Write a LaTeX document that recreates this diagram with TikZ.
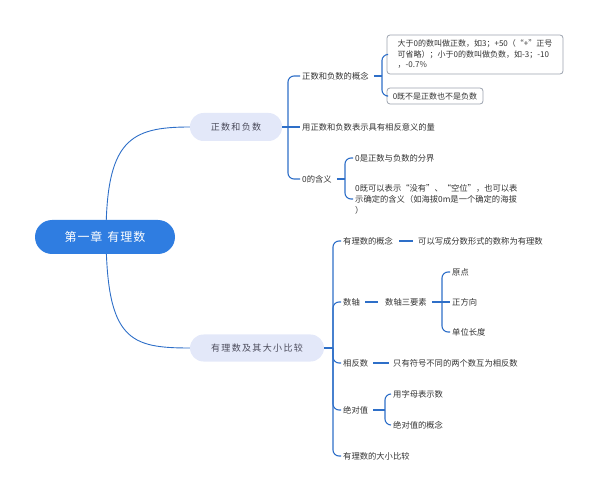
\documentclass[tikz,border=0pt]{standalone}
\usepackage{fontspec}
\setmainfont{Noto Sans CJK SC}
\newfontfamily\cjkls[LetterSpace=15]{Noto Sans CJK SC}
\newfontfamily\cjkroot[LetterSpace=8]{Noto Sans CJK SC}
\definecolor{lineblue}{HTML}{2E6FC8}
\definecolor{rootblue}{HTML}{2F7DE1}
\definecolor{lvfill}{HTML}{E3E8F9}
\definecolor{txt}{HTML}{333333}
\definecolor{lvtxt}{HTML}{4A4A5A}
\definecolor{boxline}{HTML}{9CA3AF}
\tikzset{
  rootnode/.style={fill=rootblue, text=white, rounded corners=17pt, minimum width=140pt, minimum height=34pt, inner sep=0pt, font=\cjkroot\fontsize{12}{14}\selectfont},
  lvone/.style={fill=lvfill, text=lvtxt, rounded corners=13.5pt, inner sep=0pt, font=\cjkls\fontsize{9}{11}\selectfont},
  leaf/.style={anchor=west, inner sep=2pt, text=txt, font=\fontsize{8.3}{11}\selectfont},
  boxnode/.style={draw=boxline, line width=0.8pt, rounded corners=3pt, fill=white, text=txt, inner sep=0pt, align=left, font=\fontsize{8}{10.5}\selectfont},
  conn/.style={draw=lineblue, line width=1.1pt, rounded corners=6pt},
  rootconn/.style={draw=lineblue, line width=0.9pt}
}
\begin{document}
\begin{tikzpicture}[x=1pt,y=-1pt]
\useasboundingbox (0,0) rectangle (598,500);
% level-1 nodes
\node[lvone, minimum width=92pt, minimum height=28pt] (zf) at (236,127) {正数和负数};
\node[lvone, minimum width=134pt, minimum height=27pt] (yl) at (257,348) {有理数及其大小比较};
\coordinate (rc) at (106,237);
\draw[rootconn] (rc) .. controls (106,140) and (130,127) .. (zf.west);
\draw[rootconn] (rc) .. controls (107,340) and (130,348) .. (yl.west);
\node[rootnode] (root) at (105,237) {第一章\hspace{5pt}有理数};

% top group
\node[leaf] (gn) at (300,76) {正数和负数的概念};
\node[leaf] (yz) at (300,127) {用正数和负数表示具有相反意义的量};
\node[leaf] (hy) at (300,179) {0的含义};
\coordinate (s1) at (288,127);
\draw[conn] (zf.east) -- (yz.west);
\draw[conn] (s1) |- (gn.west);
\draw[conn] (s1) |- (hy.west);

\node[boxnode, minimum width=176pt, minimum height=39pt] (b1) at (475,54.5) {大于0的数叫做正数，如3；+50（“+”正号\\可省略）；小于0的数叫做负数，如-3；-10\\，-0.7\%};
\node[boxnode, minimum width=96pt, minimum height=16pt] (b2) at (435,96) {0既不是正数也不是负数};
\coordinate (s2) at (382,76);
\draw[conn, shorten <=3pt] (gn.east) -- (s2);
\draw[conn] (s2) |- (b1.west);
\draw[conn] (s2) |- (b2.west);

\node[leaf] (fj) at (353,158) {0是正数与负数的分界};
\node[leaf, align=left] (kb) at (353,199) {0既可以表示“没有”、“空位”，也可以表\\示确定的含义（如海拔0m是一个确定的海拔\\）};
\coordinate (s3) at (345,179);
\draw[conn, shorten <=3pt] (hy.east) -- (s3);
\draw[conn] (s3) |- (fj.west);
\draw[conn] (s3) |- (kb.west);

% bottom group
\node[leaf] (gn2) at (341,241) {有理数的概念};
\node[leaf] (sz) at (341,302) {数轴};
\node[leaf] (xf) at (341,363) {相反数};
\node[leaf] (jd) at (341,410) {绝对值};
\node[leaf] (dx) at (341,456) {有理数的大小比较};
\coordinate (s4) at (333,348);
\draw[conn] (yl.east) -- (s4);
\foreach \c in {gn2,sz,xf,jd,dx} \draw[conn] (s4) |- (\c.west);

\node[leaf] (ky) at (416,241) {可以写成分数形式的数称为有理数};
\draw[conn, shorten <=4pt, shorten >=3pt] (gn2.east) -- (ky.west);

\node[leaf] (ss) at (383,302) {数轴三要素};
\draw[conn, shorten <=3pt, shorten >=5pt] (sz.east) -- (ss.west);
\node[leaf] (yd) at (450,272) {原点};
\node[leaf] (zfx) at (450,302) {正方向};
\node[leaf] (dw) at (450,332) {单位长度};
\coordinate (s5) at (442,302);
\draw[conn, shorten <=3pt] (ss.east) -- (s5);
\draw[conn] (s5) |- (yd.west);
\draw[conn] (s5) -- (zfx.west);
\draw[conn] (s5) |- (dw.west);

\node[leaf] (zy) at (391,363) {只有符号不同的两个数互为相反数};
\draw[conn, shorten <=3pt, shorten >=2pt] (xf.east) -- (zy.west);

\node[leaf] (zm) at (391,394) {用字母表示数};
\node[leaf] (jg) at (391,425) {绝对值的概念};
\coordinate (s6) at (385,410);
\draw[conn, shorten <=3pt] (jd.east) -- (s6);
\draw[conn] (s6) |- (zm.west);
\draw[conn] (s6) |- (jg.west);
\end{tikzpicture}
\end{document}
